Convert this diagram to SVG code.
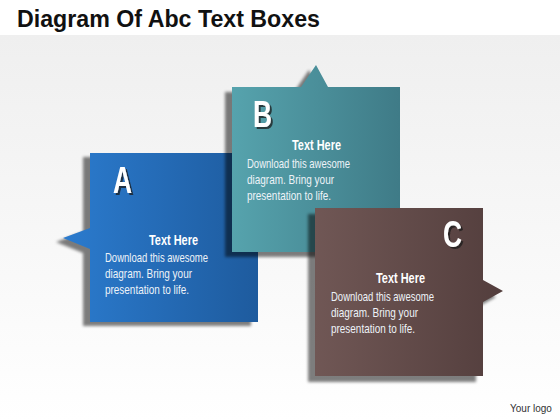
<svg xmlns="http://www.w3.org/2000/svg" width="560" height="420" viewBox="0 0 560 420">
<defs>
<linearGradient id="bg" x1="0" y1="0" x2="0" y2="1"><stop offset="0" stop-color="#efefef"/><stop offset="1" stop-color="#ffffff"/></linearGradient>
<linearGradient id="gA" x1="0" y1="0" x2="1" y2="0"><stop offset="0" stop-color="#2b7bce"/><stop offset="1" stop-color="#1e5b9e"/></linearGradient>
<linearGradient id="gB" x1="0" y1="0" x2="1" y2="0"><stop offset="0" stop-color="#56a3ad"/><stop offset="1" stop-color="#3f7b87"/></linearGradient>
<linearGradient id="gC" x1="0" y1="0" x2="1" y2="0"><stop offset="0" stop-color="#705755"/><stop offset="1" stop-color="#533e3d"/></linearGradient>
<filter id="blur" x="-10%" y="-10%" width="120%" height="120%"><feGaussianBlur stdDeviation="1.5"/></filter>
<filter id="tsh" x="-30%" y="-30%" width="160%" height="160%"><feDropShadow dx="2" dy="2" stdDeviation="0.6" flood-color="#1a1a1a" flood-opacity="0.75"/></filter>
<style>
.sh{fill:#000;opacity:0.5;filter:url(#blur)}
.let{font-family:"Liberation Sans",Arial,sans-serif;font-weight:bold;font-size:36px;fill:#fff;filter:url(#tsh)}
.hd{font-family:"Liberation Sans",Arial,sans-serif;font-weight:bold;font-size:15px;fill:#fff}
.bd{font-family:"Liberation Sans",Arial,sans-serif;font-size:13.5px;fill:#eef3f8}
.title{font-family:"Liberation Sans",Arial,sans-serif;font-weight:bold;font-size:23px;fill:#111}
.logo{font-family:"Liberation Sans",Arial,sans-serif;font-size:10px;fill:#333}
</style>
</defs>
<rect x="0" y="0" width="560" height="420" fill="#fff"/>
<rect x="0" y="35" width="560" height="385" fill="url(#bg)"/>
<text class="title" x="17" y="27" textLength="303" lengthAdjust="spacingAndGlyphs">Diagram Of Abc Text Boxes</text>

<g id="node-a">
<path class="sh" transform="translate(-7,4)" d="M90,153 H258 V322 H90 V249 L63,238 L90,228 Z"/>
<path fill="url(#gA)" d="M90,153 H258 V322 H90 V249 L63,238 L90,228 Z"/>
<text class="let" x="113" y="193" textLength="19" lengthAdjust="spacingAndGlyphs">A</text>
<text class="hd" x="149" y="245" textLength="49" lengthAdjust="spacingAndGlyphs">Text Here</text>
<text class="bd" x="105" y="261.5" textLength="103" lengthAdjust="spacingAndGlyphs">Download this awesome</text>
<text class="bd" x="105" y="277.7" textLength="87" lengthAdjust="spacingAndGlyphs">diagram. Bring your</text>
<text class="bd" x="105" y="294" textLength="84" lengthAdjust="spacingAndGlyphs">presentation to life.</text>
</g>

<g id="node-b">
<path class="sh" transform="translate(-7,5)" d="M232,87 H301 L316,65 L328,87 H400 V252 H232 Z"/>
<path fill="url(#gB)" d="M232,87 H301 L316,65 L328,87 H400 V252 H232 Z"/>
<text class="let" x="253" y="127" textLength="19" lengthAdjust="spacingAndGlyphs">B</text>
<text class="hd" x="292" y="150" textLength="49" lengthAdjust="spacingAndGlyphs">Text Here</text>
<text class="bd" x="247" y="167.7" textLength="103" lengthAdjust="spacingAndGlyphs">Download this awesome</text>
<text class="bd" x="247" y="184" textLength="87" lengthAdjust="spacingAndGlyphs">diagram. Bring your</text>
<text class="bd" x="247" y="200" textLength="84" lengthAdjust="spacingAndGlyphs">presentation to life.</text>
</g>

<g id="node-c">
<path class="sh" transform="translate(-7,6)" d="M315,208 H483 V280 L503,291 L483,302 V376 H315 Z"/>
<path fill="url(#gC)" d="M315,208 H483 V280 L503,291 L483,302 V376 H315 Z"/>
<text class="let" x="443" y="247" textLength="19" lengthAdjust="spacingAndGlyphs">C</text>
<text class="hd" x="376" y="283" textLength="49" lengthAdjust="spacingAndGlyphs">Text Here</text>
<text class="bd" x="331" y="300.7" textLength="103" lengthAdjust="spacingAndGlyphs">Download this awesome</text>
<text class="bd" x="331" y="317.3" textLength="87" lengthAdjust="spacingAndGlyphs">diagram. Bring your</text>
<text class="bd" x="331" y="333.3" textLength="84" lengthAdjust="spacingAndGlyphs">presentation to life.</text>
</g>

<text class="logo" x="510" y="412">Your logo</text>
</svg>
